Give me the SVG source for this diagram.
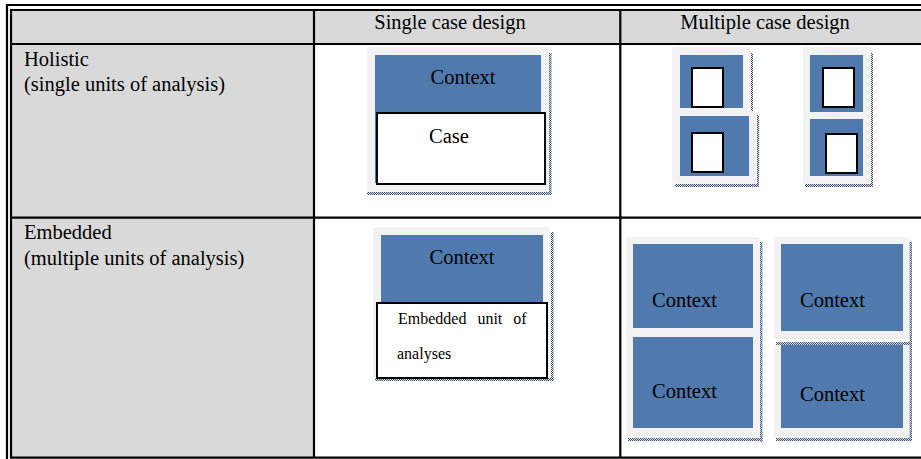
<svg xmlns="http://www.w3.org/2000/svg" width="921" height="459" viewBox="0 0 921 459">
  <defs>
    <!-- fine checkered strip used for the dotted box shadows -->
    <pattern id="chk" width="2" height="2" patternUnits="userSpaceOnUse">
      <rect width="2" height="2" fill="#d6dbe4"/>
      <rect width="1" height="1" fill="#3f5478"/>
      <rect x="1" y="1" width="1" height="1" fill="#3f5478"/>
    </pattern>
  </defs>
  <style>
    .grey { fill: #d9d9d9; }
    .rule { stroke: #000; stroke-width: 2.2; fill: none; }
    .frame { fill: #f2f2f2; }
    .ctx { fill: #5079ad; }
    .box { fill: #fff; stroke: #000; stroke-width: 2; }
    .shadow { fill: url(#chk); }
    .t { font-family: "Liberation Serif", "Times New Roman", serif; font-size: 20.5px; fill: #000; }
    .small { font-family: "Liberation Serif", "Times New Roman", serif; font-size: 16px; fill: #000; }
  </style>
  <rect width="921" height="459" fill="#fff"/>

  <!-- table background and ruling -->
  <g id="table">
    <rect class="grey" x="11" y="10" width="910" height="34"/>
    <rect class="grey" x="11" y="44" width="303" height="414"/>
    <line class="rule" x1="7" y1="4" x2="7" y2="459"/>
    <line class="rule" x1="6" y1="5" x2="921" y2="5"/>
    <line class="rule" x1="11" y1="9" x2="11" y2="458"/>
    <line class="rule" x1="10" y1="10" x2="921" y2="10"/>
    <line class="rule" x1="10" y1="44" x2="921" y2="44"/>
    <line class="rule" x1="10" y1="217.7" x2="921" y2="217.7"/>
    <line class="rule" x1="10" y1="457.7" x2="921" y2="457.7"/>
    <line class="rule" x1="314" y1="10" x2="314" y2="458"/>
    <line class="rule" x1="620.3" y1="10" x2="620.3" y2="458"/>
  </g>

  <!-- header and row labels -->
  <g id="labels">
    <text class="t" x="450" y="29" text-anchor="middle">Single case design</text>
    <text class="t" x="765" y="29" text-anchor="middle">Multiple case design</text>
    <text class="t" x="24" y="65.5">Holistic</text>
    <text class="t" x="24" y="91">(single units of analysis)</text>
    <text class="t" x="24" y="239">Embedded</text>
    <text class="t" x="24" y="264.5">(multiple units of analysis)</text>
  </g>

  <!-- holistic, single case -->
  <g id="holistic-single">
    <rect class="frame" x="367" y="47" width="183" height="145" rx="3"/>
    <rect class="ctx" x="375" y="55" width="166" height="128"/>
    <rect class="shadow" x="549" y="53" width="2.5" height="142"/>
    <rect class="shadow" x="367" y="192" width="184.5" height="3"/>
    <text class="t" x="463" y="84" text-anchor="middle">Context</text>
    <rect class="box" x="377" y="113" width="168" height="71"/>
    <text class="t" x="429" y="143">Case</text>
  </g>

  <!-- holistic, multiple cases -->
  <g id="holistic-multiple-a">
    <rect class="frame" x="672" y="47" width="78" height="66" rx="3"/>
    <rect class="ctx" x="680" y="55" width="63" height="53"/>
    <rect class="shadow" x="751" y="53" width="2" height="58"/>
    <rect class="box" x="692" y="68" width="31" height="39"/>
    <rect class="frame" x="672" y="111" width="85" height="73" rx="2"/>
    <rect class="ctx" x="680" y="116" width="69" height="60"/>
    <rect class="shadow" x="757" y="115" width="2" height="72"/>
    <rect class="shadow" x="675" y="184" width="84" height="3"/>
    <rect class="box" x="692" y="133" width="31" height="39"/>
  </g>
  <g id="holistic-multiple-b">
    <rect class="frame" x="803" y="47" width="68" height="69" rx="3"/>
    <rect class="ctx" x="810" y="55" width="53" height="57"/>
    <rect class="box" x="823" y="68" width="31" height="39"/>
    <rect class="frame" x="803" y="116" width="68" height="68"/>
    <rect class="ctx" x="810" y="119" width="53" height="57"/>
    <rect class="box" x="826" y="134" width="31" height="39"/>
    <rect class="shadow" x="871" y="53" width="2" height="134"/>
    <rect class="shadow" x="805" y="184" width="68" height="3"/>
  </g>

  <!-- embedded, single case -->
  <g id="embedded-single">
    <rect class="frame" x="373" y="227" width="177" height="151" rx="3"/>
    <rect class="ctx" x="381" y="235" width="162" height="70"/>
    <rect class="shadow" x="551" y="232" width="2.5" height="149"/>
    <rect class="shadow" x="375" y="378" width="178.5" height="3"/>
    <text class="t" x="462" y="264" text-anchor="middle">Context</text>
    <rect class="box" x="377" y="303" width="170" height="75"/>
    <text class="small" x="398" y="324" word-spacing="7">Embedded unit of</text>
    <text class="small" x="397" y="359">analyses</text>
  </g>

  <!-- embedded, multiple cases -->
  <g id="embedded-multiple-a">
    <rect class="frame" x="626" y="237" width="134" height="200" rx="3"/>
    <rect class="ctx" x="633" y="244" width="120" height="84"/>
    <rect class="ctx" x="633" y="337" width="120" height="91"/>
    <rect class="shadow" x="760" y="242" width="2.5" height="200"/>
    <rect class="shadow" x="628" y="438" width="134.5" height="3"/>
    <text class="t" x="652" y="307">Context</text>
    <text class="t" x="652" y="398">Context</text>
  </g>
  <g id="embedded-multiple-b">
    <rect class="frame" x="774" y="237" width="135" height="102" rx="3"/>
    <rect class="ctx" x="781" y="244" width="122" height="87"/>
    <rect class="shadow" x="909.5" y="242" width="2.5" height="101"/>
    <rect class="shadow" x="776" y="342" width="136" height="3"/>
    <rect class="frame" x="774" y="345" width="135" height="92"/>
    <rect class="ctx" x="781" y="345" width="122" height="83"/>
    <rect class="shadow" x="909.5" y="345" width="2.5" height="96"/>
    <rect class="shadow" x="776" y="438" width="136" height="3"/>
    <text class="t" x="800" y="307">Context</text>
    <text class="t" x="800" y="401">Context</text>
  </g>
</svg>
